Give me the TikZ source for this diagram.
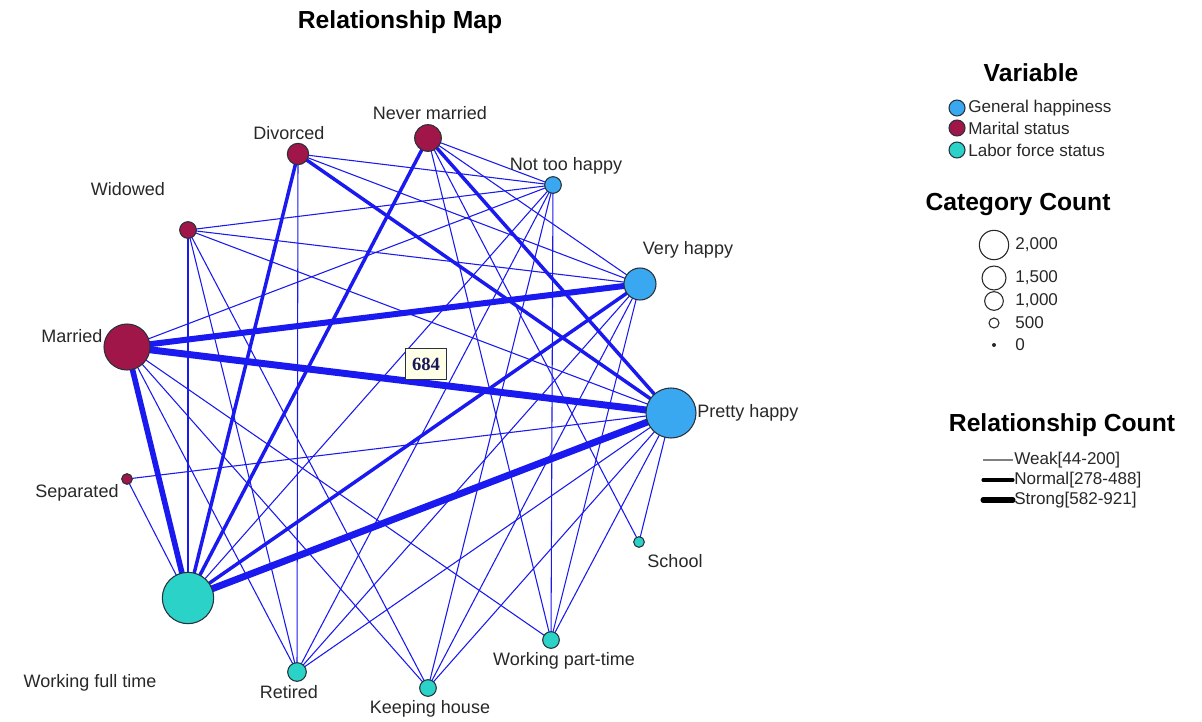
\documentclass[tikz,border=0pt]{standalone}
\usepackage{fontspec}
\setmainfont{Liberation Sans}
\newfontfamily\seriffont{Liberation Serif}
\usetikzlibrary{backgrounds}
\definecolor{hap}{RGB}{58,168,240}
\definecolor{mar}{RGB}{160,22,72}
\definecolor{lab}{RGB}{42,210,200}
\definecolor{edge}{RGB}{25,25,240}
\definecolor{outl}{RGB}{40,50,60}
\definecolor{txt}{RGB}{40,40,40}
\definecolor{boxfill}{RGB}{255,255,232}
\definecolor{navy}{RGB}{25,25,90}
\begin{document}
\begin{tikzpicture}[x=0.75pt,y=-0.75pt,
  cat/.style={circle,draw=outl,line width=0.8pt,inner sep=0pt},
  hapn/.style={cat,fill=hap},
  marn/.style={cat,fill=mar},
  labn/.style={cat,fill=lab},
  lbl/.style={text=txt,inner sep=0pt,font=\fontsize{13.5}{16}\selectfont},
  head/.style={text=black,inner sep=0pt,font=\bfseries\fontsize{18.5}{22}\selectfont},
  leg/.style={text=txt,inner sep=0pt,anchor=west,font=\fontsize{12.8}{15}\selectfont},
  weak/.style={draw=edge,line width=0.8pt},
  normal/.style={draw=edge,line width=2.6pt},
  strong/.style={draw=edge,line width=4.8pt},
  legc/.style={circle,draw=txt,line width=0.8pt,inner sep=0pt,fill=white}]
\useasboundingbox (0,0) rectangle (1202,721);

% category nodes
\node[marn,minimum size=34.5pt] (M) at (127,347) {};
\node[marn,minimum size=20pt] (NM) at (428,138) {};
\node[marn,minimum size=16pt] (D) at (298,154) {};
\node[marn,minimum size=12.5pt] (W) at (188,230) {};
\node[marn,minimum size=8pt] (S) at (127,479) {};
\node[hapn,minimum size=37.5pt] (PH) at (671,413) {};
\node[hapn,minimum size=24pt] (VH) at (640,284) {};
\node[hapn,minimum size=12.5pt] (NTH) at (553,185) {};
\node[labn,minimum size=38.5pt] (WFT) at (188,598) {};
\node[labn,minimum size=14pt] (R) at (297,672) {};
\node[labn,minimum size=12.5pt] (KH) at (428,688) {};
\node[labn,minimum size=12.5pt] (WPT) at (551,640) {};
\node[labn,minimum size=8pt] (Sch) at (639,542) {};

% edges
\begin{pgfonlayer}{background}
\fill[white] (0,0) rectangle (1202,721);
\foreach \a/\b in {M/NTH,M/R,M/KH,M/WPT,
  NM/NTH,NM/VH,NM/WPT,NM/Sch,
  D/NTH,D/VH,D/R,
  W/NTH,W/VH,W/PH,W/WFT,W/R,W/KH,
  S/PH,S/WFT,
  WFT/NTH,
  R/NTH,R/VH,R/PH,
  KH/NTH,KH/VH,KH/PH,
  WPT/NTH,WPT/VH,WPT/PH,
  Sch/PH}
  \draw[weak] (\a.center) -- (\b.center);
\foreach \a/\b in {NM/PH,D/PH,NM/WFT,D/WFT,WFT/VH}
  \draw[normal] (\a.center) -- (\b.center);
\draw[strong,line width=5.2pt] (M.center) -- (PH.center);
\draw[strong,line width=5.2pt] (WFT.center) -- (PH.center);
\draw[strong,line width=4.5pt] (M.center) -- (VH.center);
\draw[strong,line width=4.2pt] (M.center) -- (WFT.center);
\end{pgfonlayer}

% value label
\node[draw=outl,fill=boxfill,line width=0.7pt,minimum width=31pt,minimum height=23pt,inner sep=0pt,
  text=navy,font=\seriffont\bfseries\fontsize{14}{16}\selectfont] (val) at (426,364) {684};

% labels
\node[head] (title) at (400,22) {Relationship Map};
\node[lbl] (lNM) at (430,113) {Never married};
\node[lbl] (lD) at (289,133) {Divorced};
\node[lbl] (lW) at (128,189) {Widowed};
\node[lbl] (lNTH) at (566,166) {Not too happy};
\node[lbl] (lVH) at (688,250) {Very happy};
\node[lbl] (lM) at (72,336) {Married};
\node[lbl,anchor=west] (lPH) at (697,413) {Pretty happy};
\node[lbl] (lS) at (77,493) {Separated};
\node[lbl] (lSch) at (675,561) {School};
\node[lbl] (lWPT) at (564,661) {Working part-time};
\node[lbl] (lWFT) at (90,683) {Working full time};
\node[lbl] (lR) at (289,692) {Retired};
\node[lbl] (lKH) at (430,709) {Keeping house};

% legend: variable
\node[head] (hVar) at (1031,73) {Variable};
\node[hapn,minimum size=12pt] (v1) at (957,108) {};
\node[marn,minimum size=12pt] (v2) at (957,128) {};
\node[labn,minimum size=12pt] (v3) at (957,150) {};
\node[leg] (tv1) at (968,108) {General happiness};
\node[leg] (tv2) at (968,128) {Marital status};
\node[leg] (tv3) at (968,150) {Labor force status};

% legend: category count
\node[head] (hCat) at (1018,204) {Category Count};
\node[legc,minimum size=22pt] (c1) at (994,245) {};
\node[legc,minimum size=18pt] (c2) at (994,278) {};
\node[legc,minimum size=14pt] (c3) at (994,301) {};
\node[legc,minimum size=7.5pt] (c4) at (994,323) {};
\node[circle,fill=txt,inner sep=0pt,minimum size=3pt] (c5) at (994,345) {};
\node[leg] (tc1) at (1015,245) {2,000};
\node[leg] (tc2) at (1015,278) {1,500};
\node[leg] (tc3) at (1015,301) {1,000};
\node[leg] (tc4) at (1015,323) {500};
\node[leg] (tc5) at (1015,345) {0};

% legend: relationship count
\node[head] (hRel) at (1062,425) {Relationship Count};
\coordinate (r1a) at (983,460); \coordinate (r1b) at (1013,460);
\coordinate (r2a) at (983,480); \coordinate (r2b) at (1013,480);
\coordinate (r3a) at (983,500); \coordinate (r3b) at (1013,500);
\draw[gray,line width=0.9pt] (r1a) -- (r1b);
\draw[black,line width=2.3pt,line cap=round] (r2a) -- (r2b);
\draw[black,line width=3.8pt,line cap=round] (r3a) -- (r3b);
\node[leg] (tr1) at (1014,460) {Weak[44-200]};
\node[leg] (tr2) at (1014,480) {Normal[278-488]};
\node[leg] (tr3) at (1014,500) {Strong[582-921]};
\end{tikzpicture}
\end{document}
